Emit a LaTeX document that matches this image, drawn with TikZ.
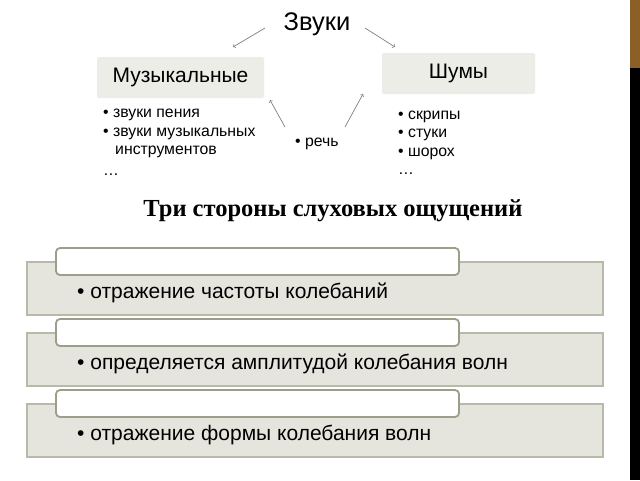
\documentclass[tikz,border=0pt]{standalone}
\usepackage{fontspec}
\setmainfont{Liberation Sans}
\newfontfamily\titlefont{Liberation Serif}
\usetikzlibrary{positioning}
\definecolor{topfill}{HTML}{EDEDE8}
\definecolor{boxfill}{HTML}{E5E5DE}
\definecolor{boxline}{HTML}{B8BAA9}
\definecolor{tabline}{HTML}{9C9E8A}
\definecolor{stripbrown}{HTML}{8C5F26}
\begin{document}
\begin{tikzpicture}[x=1pt,y=-1pt,
  topbox/.style={fill=topfill,rounded corners=2pt,minimum height=41pt,font=\fontsize{21}{24}\selectfont},
  arr/.style={->,gray,line width=0.7pt},
  listtxt/.style={anchor=base west,inner sep=0pt,font=\fontsize{15.8}{18}\selectfont},
  outerbox/.style={fill=boxfill,draw=boxline,line width=1.2pt},
  tabbox/.style={fill=white,draw=tabline,line width=1.8pt,rounded corners=4pt}]
\useasboundingbox (0,0) rectangle (640,480);
\fill[white] (0,0) rectangle (640,480);
\fill[stripbrown] (630,0) rectangle (640,68);
\fill[black] (630,68) rectangle (640,480);
% top part
\node[anchor=base,font=\fontsize{25.5}{28}\selectfont] (zvuki) at (317,30) {Звуки};
\node[topbox,minimum width=167pt] (muz) at (180.5,77.5) {Музыкальные};
\node[topbox,minimum width=153pt] (shum) at (458.5,73.5) {Шумы};
\coordinate (zvL) at (265,28); \coordinate (muzT) at (233,47);
\coordinate (zvR) at (365,28); \coordinate (shumT) at (395,47);
\draw[arr] (zvL) -- (muzT);
\draw[arr] (zvR) -- (shumT);
\foreach \t/\y [count=\i] in {• звуки пения/117, • звуки музыкальных/136, \hspace*{12pt}инструментов/154, …/175}
  \node[listtxt] (muzL\i) at (103,\y) {\t};
\foreach \t/\y [count=\i] in {• скрипы/119, • стуки/137, • шорох/156, …/174}
  \node[listtxt] (shumL\i) at (398,\y) {\t};
\node[listtxt] (rech) at (295,146) {• речь};
\coordinate (rechL) at (285,127); \coordinate (muzB) at (270,100);
\coordinate (rechR) at (345,127); \coordinate (shumB) at (363,94);
\draw[arr] (rechL) -- (muzB);
\draw[arr] (rechR) -- (shumB);
% three sides
\node[anchor=base,font=\titlefont\bfseries\fontsize{24.5}{28}\selectfont] (title) at (333,216) {Три стороны слуховых ощущений};
\foreach \y/\t [count=\i] in {262/отражение частоты колебаний, 333/определяется амплитудой колебания волн, 404/отражение формы колебания волн}
{
  \draw[outerbox] (27,\y) rectangle (603,\y+53);
  \draw[tabbox] (56,\y-14) rectangle (459,\y+13);
  \node[anchor=base west,inner sep=0pt,font=\fontsize{21}{24}\selectfont] (side\i) at (77,\y+36) {• \t};
}
\end{tikzpicture}
\end{document}
